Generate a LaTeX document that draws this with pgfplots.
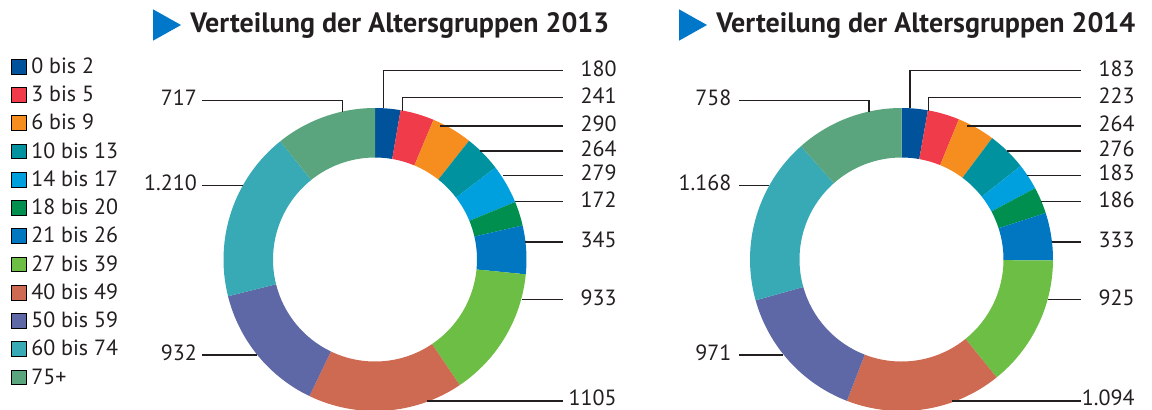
\documentclass[border=0pt]{standalone}
\usepackage{fontspec}
\setmainfont{PT Sans}
\usepackage{pgfplots}
\pgfplotsset{compat=1.18}

\definecolor{c0}{HTML}{00529B}
\definecolor{c1}{HTML}{EF3B4A}
\definecolor{c2}{HTML}{F58D1F}
\definecolor{c3}{HTML}{00939F}
\definecolor{c4}{HTML}{00A0DF}
\definecolor{c5}{HTML}{008F4F}
\definecolor{c6}{HTML}{0077C0}
\definecolor{c7}{HTML}{6DBE45}
\definecolor{c8}{HTML}{CF6A52}
\definecolor{c9}{HTML}{5F68A6}
\definecolor{c10}{HTML}{38AAB5}
\definecolor{c11}{HTML}{5AA57E}
\definecolor{txt}{HTML}{231F20}
\definecolor{tri}{HTML}{0077C8}

% data: value/colour, clockwise from 12 o'clock
\def\dataA{180/c0,241/c1,290/c2,264/c3,279/c4,172/c5,345/c6,933/c7,1105/c8,932/c9,1210/c10,717/c11}
\def\dataB{183/c0,223/c1,264/c2,276/c3,183/c4,186/c5,333/c6,925/c7,1094/c8,971/c9,1168/c10,758/c11}

\newcommand\donut[3]{%
  \gdef\dsum{0}%
  \foreach \v/\c in #3{\pgfmathparse{\dsum+\v}\xdef\dsum{\pgfmathresult}}%
  \gdef\dacc{0}%
  \foreach \v/\c in #3{%
    \pgfmathsetmacro\aS{90-360*(\dacc/\dsum)}%
    \pgfmathparse{\dacc+\v}\xdef\dacc{\pgfmathresult}%
    \pgfmathsetmacro\aE{90-360*(\dacc/\dsum)}%
    \edef\temp{\noexpand\fill[\c,shift={(axis cs:#1,#2)}] (\aS:75.75pt) arc[start angle=\aS,end angle=\aE,radius=75.75pt] -- (\aE:51pt) arc[start angle=\aE,end angle=\aS,radius=51pt] -- cycle;}%
    \temp
  }%
}

\newcommand\rlab[6]{% textx, liney, linex_end(left), value, [attach y or empty], baseline offset
  \draw[txt,line width=0.6pt] (axis cs:#1-54,#2) -- (axis cs:#3,#2) \ifx\relax#5\relax\else -- (axis cs:#3,#5)\fi;
  \node[anchor=base east,inner sep=0pt,text=txt,font=\fontsize{11}{13}\selectfont] at (axis cs:#1,#2+#6) {#4};
}
\newcommand\llab[6]{% text right x, line start x, liney, line end x, value, attach y
  \draw[txt,line width=0.6pt] (axis cs:#2,#3) -- (axis cs:#4,#3) \ifx\relax#6\relax\else -- (axis cs:#4,#6)\fi;
  \node[anchor=base east,inner sep=0pt,text=txt,font=\fontsize{11}{13}\selectfont] at (axis cs:#1,#3+5) {#5};
}

\begin{document}
\begin{tikzpicture}
\useasboundingbox (0,0) rectangle (576pt,204.5pt);
\begin{axis}[
  at={(0,0)}, anchor=south west, scale only axis,
  width=576pt, height=204.5pt,
  xmin=0, xmax=1152, ymin=0, ymax=409, y dir=reverse,
  axis lines=none, clip=false,
  legend image code/.code={\fill[#1] (0pt,-0.35pt) rectangle (7.6pt,7pt);},
  legend style={at={(axis cs:11,57.3)}, anchor=north west, draw=none, fill=none,
    inner sep=0pt, outer sep=0pt, row sep=4.125pt, column sep=2.15pt,
    font=\fontsize{11}{13}\selectfont, text=txt,
    cells={anchor=base west},
    nodes={inner sep=0pt, text height=8pt, text depth=2pt}},
]
\addlegendimage{fill=c0}\addlegendentry{0 bis 2}
\addlegendimage{fill=c1}\addlegendentry{3 bis 5}
\addlegendimage{fill=c2}\addlegendentry{6 bis 9}
\addlegendimage{fill=c3}\addlegendentry{10 bis 13}
\addlegendimage{fill=c4}\addlegendentry{14 bis 17}
\addlegendimage{fill=c5}\addlegendentry{18 bis 20}
\addlegendimage{fill=c6}\addlegendentry{21 bis 26}
\addlegendimage{fill=c7}\addlegendentry{27 bis 39}
\addlegendimage{fill=c8}\addlegendentry{40 bis 49}
\addlegendimage{fill=c9}\addlegendentry{50 bis 59}
\addlegendimage{fill=c10}\addlegendentry{60 bis 74}
\addlegendimage{fill=c11}\addlegendentry{75+}

\donut{375}{259.5}{\dataA}
\donut{901.5}{259.5}{\dataB}

% titles
\fill[tri] (axis cs:153,9.3) -- (axis cs:153,40.7) -- (axis cs:181,25) -- cycle;
\node[anchor=base west,inner sep=0pt,text=txt,font=\bfseries\fontsize{14}{16}\selectfont] at (axis cs:190,32.5) {Verteilung der Altersgruppen 2013};
\fill[tri] (axis cs:679,9.3) -- (axis cs:679,40.7) -- (axis cs:707,25) -- cycle;
\node[anchor=base west,inner sep=0pt,text=txt,font=\bfseries\fontsize{14}{16}\selectfont] at (axis cs:716,32.5) {Verteilung der Altersgruppen 2014};

% labels 2013 right
\rlab{617}{70.7}{383.7}{180}{108}{5.5}
\rlab{617}{97.7}{402.3}{241}{110.7}{5.5}
\rlab{617}{126}{440}{290}{}{5.5}
\rlab{617}{151}{480}{264}{}{5.5}
\rlab{617}{175.3}{503}{279}{}{5.5}
\rlab{617}{201.7}{515}{172}{}{5.5}
\rlab{617}{242}{525}{345}{}{5.5}
\rlab{617}{299.7}{521.7}{933}{}{5.5}
\rlab{617}{401}{426.7}{1105}{}{4.5}
% labels 2013 left
\llab{197.3}{202.3}{100.7}{342.7}{717}{111.7}
\llab{197.3}{202.3}{185.7}{242.7}{1.210}{}
\llab{197.3}{202.3}{355}{257}{932}{}
% labels 2014 right
\rlab{1135}{70.7}{910}{183}{108}{5.5}
\rlab{1135}{97.7}{928.7}{223}{110.7}{5.5}
\rlab{1135}{126}{966.7}{264}{}{5.5}
\rlab{1135}{151}{1006.7}{276}{}{5.5}
\rlab{1135}{175.3}{1026.7}{183}{}{5.5}
\rlab{1135}{201.7}{1041}{186}{}{5.5}
\rlab{1135}{242}{1051.7}{333}{}{5.5}
\rlab{1135}{299.7}{1047.7}{925}{}{5.5}
\rlab{1135}{401}{951.7}{1.094}{}{4.5}
% labels 2014 left
\llab{731.7}{739.3}{100.7}{869}{758}{111.7}
\llab{731.7}{739.3}{185.7}{769.3}{1.168}{}
\llab{731.7}{739.3}{355}{783.3}{971}{}
\end{axis}
\end{tikzpicture}
\end{document}
